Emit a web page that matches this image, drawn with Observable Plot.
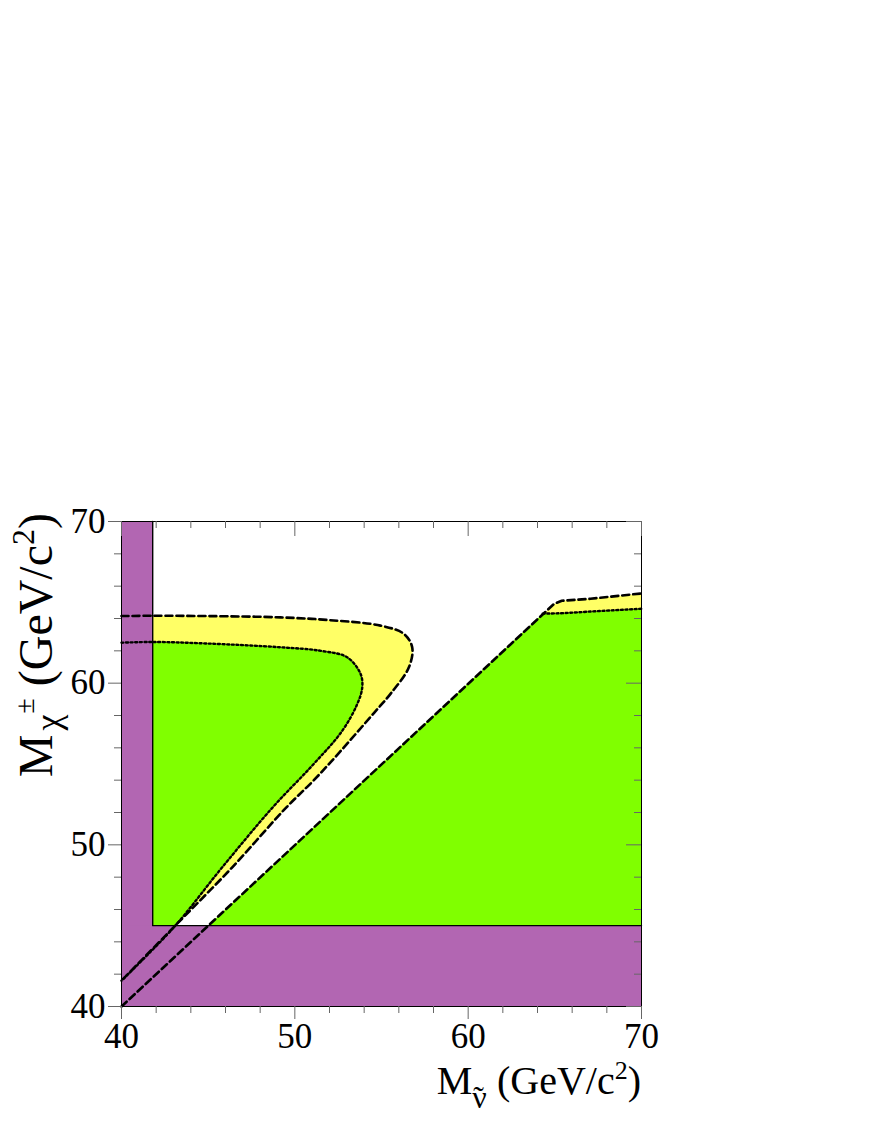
<!DOCTYPE html>
<html><head><meta charset="utf-8">
<script src="https://cdn.jsdelivr.net/npm/d3@7"></script>
<script src="https://cdn.jsdelivr.net/npm/@observablehq/plot@0.6"></script>
<style>body{margin:0;background:#fff;}</style>
</head><body><div id="chart"></div>
<script>
// ---- tick values ----
const xMajor = [40, 50, 60, 70];
const xMinor = [42, 44, 46, 48, 52, 54, 56, 58, 62, 64, 66, 68];
const yMajor = [40, 50, 60, 70];
const yMinor = [42, 44, 46, 48, 52, 54, 56, 58, 62, 64, 66, 68];

// ---- excluded regions (purple) ----
const excludedBands = [
  {x1: 40, x2: 41.8, y1: 40, y2: 70},
  {x1: 40, x2: 70, y1: 40, y2: 45}
];
const excludedEdge = [[41.8, 70], [41.8, 45], [70, 45]];

// ---- upper-left contours ----
const leftExpected = [ // dashed
  [40, 64.15], [41.8, 64.17], [45, 64.15], [49.17, 64.07], [52, 63.9], [54.94, 63.56],
  [56.29, 63.05], [56.77, 62.22], [56.58, 60.98], [55.52, 59.34], [54.6, 58.2],
  [52.6, 55.75], [51.1, 54.0], [49.5, 52.3], [46.39, 48.61], [43.1, 45.0], [40, 41.6]
];
const leftObserved = [ // dotted
  [40, 62.5], [41.8, 62.55], [45, 62.45], [49.17, 62.22], [51.5, 62.0], [53.02, 61.6],
  [53.79, 60.58], [53.89, 59.75], [53.6, 58.7], [52.7, 57.0], [51.0, 54.9],
  [48.75, 52.35], [45.81, 48.61], [43.02, 44.9], [40, 41.6]
];

// ---- right-hand contours ----
const rightExpected = [[40, 40], [64.95, 64.9], [65.4, 65.1], [67.06, 65.22], [70, 65.55]];
const rightObserved = [[64.3, 64.3], [65.5, 64.33], [67.06, 64.43], [70, 64.6]];
const rightCorner = [70, 40];
const diagStart = [40, 40];

const colYellow = "#ffff66";
const colGreen = "#80ff00";
const colPurple = "#b266b2";

const W = 872, H = 1128;
const mL = 121, mR = 231, mT = 521, mB = 122;
const plotW = W - mL - mR, plotH = H - mT - mB;
const font = "'Liberation Serif', 'Times New Roman', serif";

const rightYellowPoly = [...rightExpected, rightCorner];
const rightGreenPoly = [diagStart, ...rightObserved, rightCorner];

const P = (arr, opts) => Plot.line(arr, {x: d => d[0], y: d => d[1], ...opts});
const dashed = {stroke: "#000", strokeWidth: 2.6, strokeDasharray: "7,4"};
const dotted = {stroke: "#000", strokeWidth: 2.4, strokeDasharray: "2,2.6"};

const chart = Plot.plot({
  width: W, height: H,
  marginLeft: mL, marginRight: mR, marginTop: mT, marginBottom: mB,
  x: {domain: [40, 70]},
  y: {domain: [40, 70]},
  style: {fontFamily: font, background: "#fff", color: "#000"},
  marks: [
    // fills
    P(leftExpected, {fill: colYellow, stroke: "none", curve: "catmull-rom"}),
    P(rightYellowPoly, {fill: colYellow, stroke: "none"}),
    P(leftObserved, {fill: colGreen, stroke: "none", curve: "catmull-rom"}),
    P(rightGreenPoly, {fill: colGreen, stroke: "none"}),
    Plot.rect(excludedBands, {x1: "x1", x2: "x2", y1: "y1", y2: "y2", fill: colPurple}),
    P(excludedEdge, {stroke: "#000", strokeWidth: 1.4}),
    // contour lines
    P(leftExpected, {...dashed, curve: "catmull-rom"}),
    P(leftObserved, {...dotted, curve: "catmull-rom"}),
    P(rightExpected, dashed),
    P(rightObserved, dotted),
    Plot.frame({stroke: "#000", strokeWidth: 1}),
    // axes: outward on left/bottom
    Plot.axisX({ticks: xMajor, tickSize: 13, tickPadding: 4, fontSize: 35, label: null, stroke: "#666", fill: "#000"}),
    Plot.axisX({ticks: xMinor, tickSize: 7, tickFormat: () => "", label: null, stroke: "#666"}),
    Plot.axisY({ticks: yMajor, tickSize: 13, tickPadding: 3, fontSize: 35, label: null, stroke: "#666", fill: "#000"}),
    Plot.axisY({ticks: yMinor, tickSize: 7, tickFormat: () => "", label: null, stroke: "#666"}),
    // inward ticks on top/right
    Plot.tickX(xMajor, {x: d => d, insetBottom: plotH - 15, stroke: "#666"}),
    Plot.tickX(xMinor, {x: d => d, insetBottom: plotH - 7, stroke: "#666"}),
    Plot.tickY(yMajor, {y: d => d, insetLeft: plotW - 15, stroke: "#666"}),
    Plot.tickY(yMinor, {y: d => d, insetLeft: plotW - 7, stroke: "#666"})
  ]
});
document.getElementById("chart").appendChild(chart);

const svg = d3.select(chart);
// force serif font on the tick labels
svg.selectAll("text").style("font-family", font).style("font-variant-numeric", "normal");

// ---- axis titles ----
const xt = svg.append("text")
  .attr("x", 641).attr("y", 1094)
  .attr("text-anchor", "end")
  .style("font-family", font).attr("font-size", 40).attr("fill", "#000");
xt.append("tspan").text("M");
xt.append("tspan").attr("dy", 14).attr("font-size", 32).text("\u03BD");
xt.append("tspan").attr("dx", -13.5).attr("font-size", 32).text("\u02DC");
xt.append("tspan").attr("dx", 3).attr("dy", -14).text("\u00A0(GeV/c");
xt.append("tspan").attr("dy", -15).attr("font-size", 26).text("2");
xt.append("tspan").attr("dy", 15).text(")");

const yt = svg.append("text")
  .attr("transform", "translate(52,513) rotate(-90)")
  .attr("text-anchor", "end")
  .style("font-family", font).attr("font-size", 48).attr("fill", "#000");
yt.append("tspan").text("M");
yt.append("tspan").attr("dx", 4).attr("dy", 8).attr("font-size", 36).text("\u03C7");
yt.append("tspan").attr("dx", 1).attr("dy", -26).attr("font-size", 28).text("\u00B1");
yt.append("tspan").attr("dy", 18).text("\u00A0(GeV/c");
yt.append("tspan").attr("dy", -18).attr("font-size", 32).text("2");
yt.append("tspan").attr("dy", 18).text(")");
</script>
</body></html>
